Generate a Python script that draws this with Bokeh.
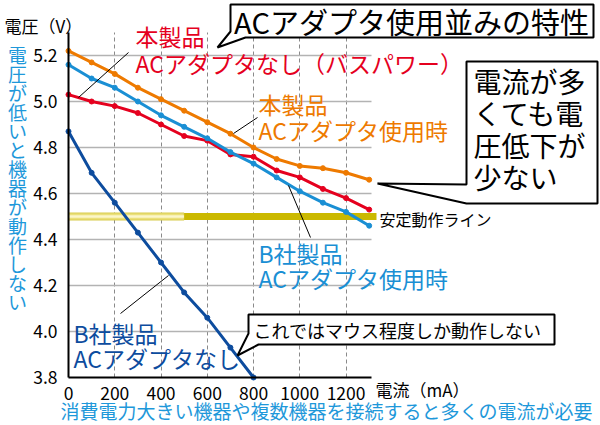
from bokeh.plotting import figure
from bokeh.models import Label, PolyAnnotation, FixedTicker, PrintfTickFormatter, Range1d
from bokeh.embed import file_html
from bokeh.resources import INLINE

# ---------------- data ----------------
current = [0, 100, 200, 300, 400, 500, 600, 700, 800, 900, 1000, 1100, 1200, 1300]
ours_ac = [5.22, 5.17, 5.12, 5.06, 5.01, 4.96, 4.91, 4.86, 4.80, 4.75, 4.72, 4.71, 4.69, 4.66]
ours_bus = [5.03, 5.00, 4.98, 4.95, 4.90, 4.85, 4.83, 4.77, 4.76, 4.70, 4.67, 4.62, 4.58, 4.53]
b_ac = [5.16, 5.10, 5.06, 5.00, 4.94, 4.89, 4.84, 4.78, 4.73, 4.67, 4.61, 4.56, 4.52, 4.46]
b_current = [0, 100, 200, 300, 400, 500, 600, 700, 800]
b_none = [4.87, 4.69, 4.56, 4.43, 4.30, 4.17, 4.06, 3.93, 3.80]
stable_v = 4.5
stable_split = 500
x_ticks = [0, 200, 400, 600, 800, 1000, 1200]
y_ticks = [3.8, 4.0, 4.2, 4.4, 4.6, 4.8, 5.0, 5.2]
x_axis_max = 1310
y_axis_max = 5.3

title_text = "ACアダプタ使用並みの特性"
ours_name = "本製品"
ours_bus_name = "ACアダプタなし（バスパワー）"
ours_ac_name = "ACアダプタ使用時"
b_name = "B社製品"
b_ac_name = "ACアダプタ使用時"
b_none_name = "ACアダプタなし"
note_lines = ["電流が多", "くても電", "圧低下が", "少ない"]
mouse_note = "これではマウス程度しか動作しない"
stable_label = "安定動作ライン"
y_title = "電圧（V）"
x_title = "電流（mA）"
left_note = "電圧が低いと機器が動作しない"
bottom_note = "消費電力大きい機器や複数機器を接続すると多くの電流が必要"

# ---------------- style ----------------
FONT = "Noto Sans CJK JP"
RED = "#e5001e"
ORANGE = "#ee7a00"
LBLUE = "#1a8fd4"
DBLUE = "#0d4c9e"
TBLUE = "#1e98da"
YEL = "#cbb900"

W, H = 600, 425
# page pixel -> data helpers (plot area: x 68..371, y 32..377)
SX = 303 / 1310.0
SY = 345 / 1.5
def X(px):
    return (px - 68) / SX
def Y(py):
    return 3.8 + (377 - py) / SY

p = figure(width=W, height=H, x_range=Range1d(X(0), X(W)), y_range=Range1d(Y(H), Y(0)),
           output_backend="svg", toolbar_location=None, min_border=0)
p.outline_line_color = None
p.background_fill_color = "white"
p.border_fill_color = "white"

for ax in (p.xaxis, p.yaxis):
    ax.axis_line_width = 2
    ax.axis_line_color = "black"
    ax.major_tick_line_color = None
    ax.minor_tick_line_color = None
    ax.major_label_text_font = FONT
    ax.major_label_text_font_size = "17.5px"
    ax.major_label_text_color = "black"
p.xaxis.fixed_location = y_ticks[0]
p.yaxis.fixed_location = 0
p.xaxis.bounds = (0, x_axis_max)
p.yaxis.bounds = (y_ticks[0], y_axis_max)
p.xaxis.ticker = FixedTicker(ticks=x_ticks)
p.yaxis.ticker = FixedTicker(ticks=y_ticks)
p.yaxis.formatter = PrintfTickFormatter(format="%.1f")
p.xaxis.major_label_standoff = 3
p.yaxis.major_label_standoff = 5

p.xgrid.ticker = FixedTicker(ticks=x_ticks[1:])
p.xgrid.grid_line_color = "#8a8a8a"
p.xgrid.grid_line_dash = "4 3"
p.xgrid.grid_line_width = 1
p.ygrid.ticker = FixedTicker(ticks=y_ticks[1:])
p.ygrid.grid_line_color = "#b3b3b3"
p.ygrid.grid_line_width = 1.5
try:
    p.xgrid.cross_bounds = (y_ticks[0], y_axis_max)
    p.ygrid.cross_bounds = (0, x_axis_max)
except Exception:
    p.xgrid.visible = False
    p.ygrid.visible = False
    p.segment(x0=x_ticks[1:], y0=[y_ticks[0]] * 6, x1=x_ticks[1:], y1=[y_axis_max] * 6,
              line_color="#8a8a8a", line_dash="4 3", line_width=1, level="underlay")
    p.segment(x0=[0] * 7, y0=y_ticks[1:], x1=[x_axis_max] * 7, y1=y_ticks[1:],
              line_color="#b3b3b3", line_width=1.5, level="underlay")

# stable operation band (under the data lines)
hb = 3.5 / SY
def band(x0, x1, half, fill, line=None):
    p.add_layout(PolyAnnotation(xs=[x0, x1, x1, x0],
                                ys=[stable_v - half, stable_v - half, stable_v + half, stable_v + half],
                                fill_color=fill, fill_alpha=1, line_color=line, line_alpha=1,
                                line_width=1, level="underlay"))
band(0, stable_split, hb, "#ebe07a", "#d8cb4c")
band(0, stable_split, hb / 3, "#fbf6c8")
band(stable_split, X(376), hb, YEL)

# data lines
for xs, ys, c in ((current, ours_bus, RED), (current, ours_ac, ORANGE),
                  (current, b_ac, LBLUE), (b_current, b_none, DBLUE)):
    p.line(xs, ys, line_color=c, line_width=3)
    p.scatter(xs, ys, size=5, fill_color=c, line_color=c)

# leader lines
p.segment(x0=[X(128), X(257), X(288), X(120)], y0=[Y(52), Y(117), Y(185), Y(313)],
          x1=[X(78), X(233), X(310), X(168)], y1=[Y(97), Y(133), Y(237), Y(275)],
          line_color="black", line_width=1)

def lab(px, py, text, size, color, align="left"):
    p.add_layout(Label(x=X(px), y=Y(py), text=text, text_font=FONT, text_font_size=size,
                       text_color=color, text_align=align, text_baseline="middle"))

def poly(pts):
    p.add_layout(PolyAnnotation(xs=[X(a) for a, b in pts], ys=[Y(b) for a, b in pts],
                                fill_color="white", fill_alpha=1, line_color="black",
                                line_alpha=1, line_width=2))

# title callout
poly([(230, 4), (593, 4), (593, 37), (245, 37), (217, 47), (230, 31)])
lab(411, 20, title_text, "29px", "black", "center")

# right callout
poly([(466, 61), (597, 61), (597, 203), (466, 203), (377, 183), (466, 184)])
for i, t in enumerate(note_lines):
    lab(473, 80 + i * 32, t, "28px", "black")

# mouse callout
poly([(248, 314), (554, 314), (554, 344), (258, 344), (237, 355), (248, 333)])
lab(253, 329, mouse_note, "18px", "black")

# series labels
lab(135, 35, ours_name, "23px", RED)
lab(135, 62, ours_bus_name, "23px", RED)
lab(258, 103, ours_name, "23px", ORANGE)
lab(258, 129, ours_ac_name, "23px", ORANGE)
lab(258, 252, b_name, "23px", LBLUE)
lab(258, 277, b_ac_name, "23px", LBLUE)
lab(73, 332, b_name, "23px", DBLUE)
lab(73, 357, b_none_name, "23px", DBLUE)

lab(379, 218, stable_label, "16px", "black")
lab(4, 25, y_title, "17px", "black")
lab(375, 389, x_title, "17px", "black")

for i, ch in enumerate(left_note):
    lab(17, 54 + i * 19, ch, "19px", TBLUE, "center")
lab(60, 410, bottom_note, "19px", TBLUE)

open("out.html", "w").write(file_html(p, INLINE))
